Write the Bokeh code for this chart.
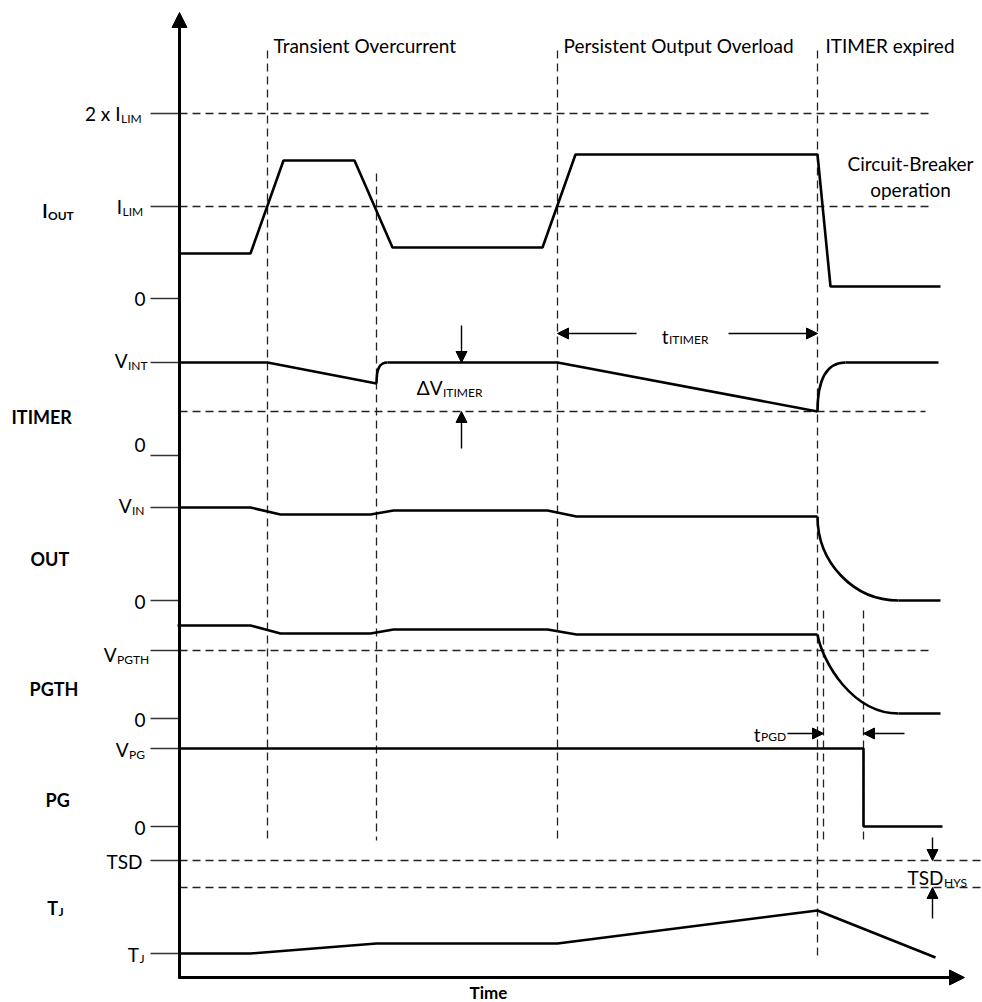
from bokeh.plotting import figure
from bokeh.models import Range1d, Arrow, NormalHead, ColumnDataSource
from bokeh.core.properties import value
from bokeh.embed import file_html
from bokeh.resources import INLINE

# ---------------- data (time position, level position; screen-like units) ----------------
iout_t = [179, 250, 283, 354, 392, 542, 575, 817, 830, 940]
iout_v = [253, 253, 160, 160, 247, 247, 154, 154, 286, 286]

itimer_t1 = [179, 267, 376]
itimer_v1 = [362, 362, 383]
itimer_t2 = [387, 557, 817]
itimer_v2 = [362, 362, 411]
itimer_t3 = [845, 938]
itimer_v3 = [362, 362]

out_t = [179, 250, 280, 370, 393, 547, 576, 817]
out_v = [507, 507, 514, 514, 510, 510, 516, 516]
out_tail_t = [898, 940]
out_tail_v = [600, 600]

pgth_t = [177, 250, 280, 370, 393, 547, 576, 817]
pgth_v = [625, 625, 633, 633, 629, 629, 634, 634]
pgth_tail_t = [898, 940]
pgth_tail_v = [713, 713]

pg_t = [179, 863, 863, 942]
pg_v = [748, 748, 826, 826]

tj_t = [179, 250, 376, 557, 817, 935]
tj_v = [953, 953, 943, 943, 910, 957]

# curved segments (start, control1, control2, end)
curve_x0 = [376, 817, 817, 817]
curve_y0 = [383, 411, 516, 634]
curve_cx0 = [376, 817, 817, 822]
curve_cy0 = [368, 378, 562, 662]
curve_cx1 = [379, 826, 853, 852]
curve_cy1 = [362, 362, 600, 713]
curve_x1 = [387, 845, 898, 898]
curve_y1 = [362, 362, 600, 713]

# reference levels (dashed horizontal)
hlevel_y = [113, 206, 411, 650, 860, 887]
hlevel_x0 = [179, 179, 179, 179, 179, 179]
hlevel_x1 = [932, 932, 925, 933, 982, 982]

# event markers (dashed vertical)
vmark_x = [267, 376, 557, 817, 823, 863]
vmark_y0 = [50, 173, 50, 50, 610, 610]
vmark_y1 = [840, 840, 838, 955, 843, 843]

# tick levels on the vertical axis
tick_y = [113, 206, 298, 362, 455, 507, 600, 650, 718, 748, 826, 860, 953]

section_titles = ["Transient Overcurrent", "Persistent Output Overload", "ITIMER expired"]

FONT = value("Lato")
INK = "#000000"
DASH = "#222222"
MAIN = "19px"
SUB = "12px"

p = figure(width=982, height=1002, output_backend="svg", toolbar_location=None,
           x_range=Range1d(0, 982), y_range=Range1d(1002, 0),
           min_border=0, outline_line_color=None)
p.axis.visible = False
p.grid.visible = False
p.background_fill_color = "white"
p.border_fill_color = "white"

# dashed helper lines
p.segment(x0=hlevel_x0, y0=hlevel_y, x1=hlevel_x1, y1=hlevel_y,
          line_color=DASH, line_width=1.3, line_dash="8 5")
p.segment(x0=vmark_x, y0=vmark_y0, x1=vmark_x, y1=vmark_y1,
          line_color=DASH, line_width=1.3, line_dash="8 5")

# ticks
p.segment(x0=[150] * len(tick_y), y0=tick_y, x1=[179] * len(tick_y), y1=tick_y,
          line_color="#333333", line_width=1.4)

# waveforms
lw = 2.6
for xs, ys in [(iout_t, iout_v), (itimer_t1, itimer_v1), (itimer_t2, itimer_v2),
               (itimer_t3, itimer_v3), (out_t, out_v), (out_tail_t, out_tail_v),
               (pgth_t, pgth_v), (pgth_tail_t, pgth_tail_v), (pg_t, pg_v), (tj_t, tj_v)]:
    p.line(xs, ys, line_color=INK, line_width=lw)
p.bezier(x0=curve_x0, y0=curve_y0, x1=curve_x1, y1=curve_y1,
         cx0=curve_cx0, cy0=curve_cy0, cx1=curve_cx1, cy1=curve_cy1,
         line_color=INK, line_width=lw)

# axes with arrow heads
p.add_layout(Arrow(end=NormalHead(size=15, fill_color=INK, line_color=INK),
                   x_start=179, y_start=978, x_end=179, y_end=12,
                   line_width=3, line_color=INK))
p.add_layout(Arrow(end=NormalHead(size=15, fill_color=INK, line_color=INK),
                   x_start=178, y_start=977, x_end=964, y_end=977,
                   line_width=3, line_color=INK))

# dimension arrows
arr = ColumnDataSource(dict(
    xs=[636, 728, 461, 461, 787, 904, 932, 932],
    ys=[333, 333, 325, 448, 733, 733, 837, 918],
    xe=[557, 817, 461, 461, 823, 863, 932, 932],
    ye=[333, 333, 362, 411, 733, 733, 860, 887],
))
p.add_layout(Arrow(end=NormalHead(size=11, fill_color=INK, line_color=INK),
                   x_start="xs", y_start="ys", x_end="xe", y_end="ye",
                   source=arr, line_width=1.4, line_color=INK))

def txt(x, y, s, size=MAIN, align="left", bold=False):
    p.text(x=[x], y=[y], text=[s], text_font=FONT, text_font_size=value(size),
           text_align=align, text_baseline="middle", text_color=INK,
           text_font_style="bold" if bold else "normal")

def sub_label(xj, y, main, sub, size=MAIN, subsize=SUB, bold=False, dy=5):
    txt(xj, y, main, size=size, align="right", bold=bold)
    txt(xj + 0.5, y + dy, sub, size=subsize, align="left", bold=bold)

# section titles
txt(273, 45, section_titles[0])
txt(563, 45, section_titles[1])
txt(825, 45, section_titles[2])
txt(910, 163, "Circuit-Breaker", align="center")
txt(910, 189, "operation", align="center")

# tick labels
sub_label(120, 113, "2 x I", "LIM")
sub_label(121.5, 206, "I", "LIM")
txt(145, 298, "0", align="right")
sub_label(127, 360, "V", "INT")
txt(145, 444, "0", align="right")
sub_label(131, 505, "V", "IN")
txt(145, 601, "0", align="right")
sub_label(116, 654, "V", "PGTH")
txt(145, 719, "0", align="right")
sub_label(128, 749, "V", "PG")
txt(145, 827, "0", align="right")
txt(142, 861, "TSD", align="right")
sub_label(138.5, 954, "T", "J", dy=4)

# signal names
sub_label(47, 210, "I", "OUT", size="18px", subsize="12px", bold=True)
txt(11, 416, "ITIMER", size="18px", bold=True)
txt(30, 558, "OUT", size="18px", bold=True)
txt(29, 688, "PGTH", size="18px", bold=True)
txt(45, 799, "PG", size="18px", bold=True)
sub_label(57.5, 907, "T", "J", size="18px", subsize="12px", bold=True, dy=4)
txt(488, 992, "Time", size="17px", align="center", bold=True)

# annotation labels
sub_label(668, 336, "t", "ITIMER", dy=3)
sub_label(442, 387, "\u0394V", "ITIMER", dy=5)
sub_label(760, 734, "t", "PGD", dy=2)
sub_label(943, 877, "TSD", "HYS", dy=5)

open("out.html", "w").write(file_html(p, INLINE))
